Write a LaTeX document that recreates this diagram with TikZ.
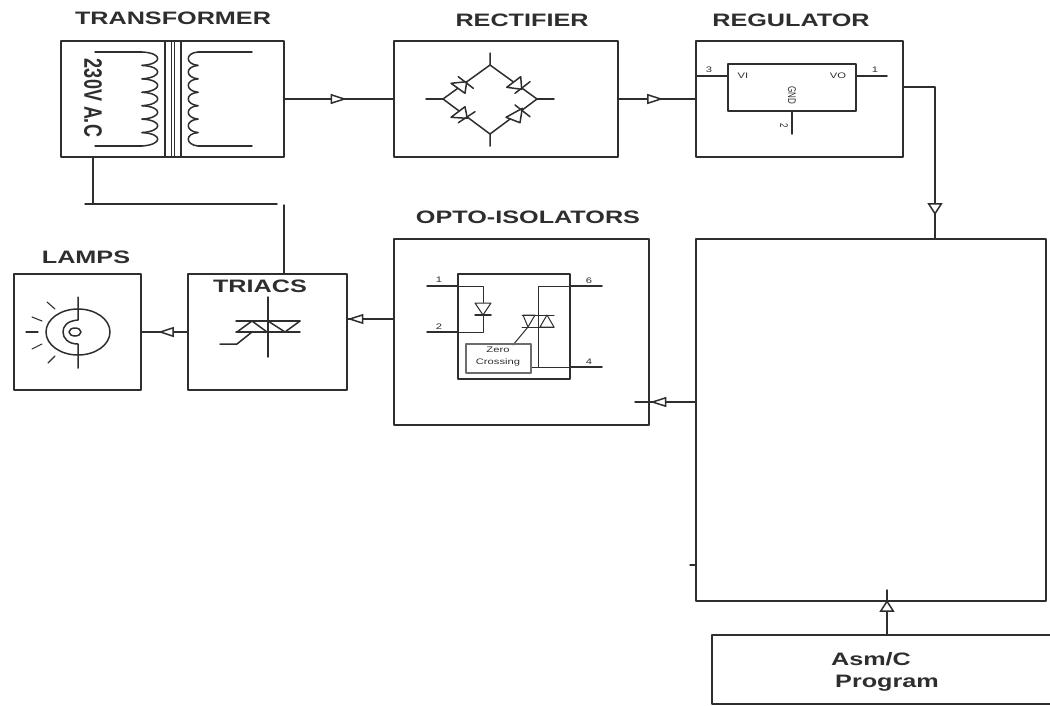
\documentclass[tikz,border=0pt]{standalone}
\usepackage{fontspec}
\setmainfont{Liberation Sans}
\newfontfamily\widefont[FakeStretch=1.4]{Liberation Sans}
\usetikzlibrary{arrows.meta,decorations.markings}
\definecolor{inkgray}{HTML}{2E2E2E}
\begin{document}
\begin{tikzpicture}[x=1pt, y=-1pt, line cap=round, line join=round, color=inkgray, line width=1.5pt]
	\tikzset{
		blockbox/.style={draw, anchor=north west, inner sep=0pt, outer sep=0pt, line width=1.8pt},
		titletext/.style={font=\widefont\bfseries\fontsize{18}{18}\selectfont, inner sep=0pt},
		pintext/.style={font=\widefont\fontsize{8}{8}\selectfont, inner sep=0pt},
		midtip/.style={postaction={decorate}, decoration={markings, mark=at position #1 with {\arrow{Triangle[open, length=16pt, width=10pt, line width=1.5pt, fill=white]}}}},
		vmidtip/.style={postaction={decorate}, decoration={markings, mark=at position #1 with {\arrow{Triangle[open, length=12pt, width=15pt, line width=1.5pt, fill=white]}}}}
	}
	\useasboundingbox (0,0) rectangle (1050,705);
	% blocks
	\node[blockbox, minimum width=223pt, minimum height=116pt] (transformer) at (61,41) {};
	\node[blockbox, minimum width=224pt, minimum height=116pt] (rectifier) at (394,41) {};
	\node[blockbox, minimum width=207pt, minimum height=116pt] (regulator) at (696,41) {};
	\node[blockbox, minimum width=350pt, minimum height=362pt] (controller) at (696,239) {};
	\node[blockbox, minimum width=255pt, minimum height=186pt] (opto) at (394,239) {};
	\node[blockbox, minimum width=159pt, minimum height=116pt] (triacs) at (188,274) {};
	\node[blockbox, minimum width=127pt, minimum height=116pt] (lamps) at (14,274) {};
	\node[blockbox, minimum width=345pt, minimum height=69pt] (program) at (712,635) {};
	% titles
	\node[titletext] (transformertitle) at (173,18) {TRANSFORMER};
	\node[titletext] (rectifiertitle) at (522,20) {RECTIFIER};
	\node[titletext] (regulatortitle) at (791,20) {REGULATOR};
	\node[titletext] (optotitle) at (528,217) {OPTO-ISOLATORS};
	\node[titletext] (lampstitle) at (86,257) {LAMPS};
	\node[titletext] (triacstitle) at (260,286) {TRIACS};
	\node[titletext] (asmtext) at (871,659) {Asm/C};
	\node[titletext] (programtext) at (887,683) {Program};
	\node[inner sep=0pt, font=\bfseries\fontsize{18}{18}\selectfont] (mainstext) at (93,98) {\scalebox{1.4}[1]{\rotatebox{-90}{230V A.C}}};
	% connectors
	\coordinate (regout) at (903,87);
	\coordinate (regdrop) at (935,87);
	\coordinate (contin) at (935,239);
	\coordinate (contout) at (696,402);
	\coordinate (optoin) at (635,402);
	\coordinate (progout) at (887,635);
	\coordinate (progin) at (887,590);
	\coordinate (trafofoot) at (93,157);
	\coordinate (trafocorner) at (93,204);
	\coordinate (mainsleft) at (85,204);
	\coordinate (mainsright) at (277,204);
	\coordinate (triacup) at (284,205);
	\coordinate (triactop) at (284,274);
	\coordinate (opto3) at (394,319);
	\coordinate (triac3) at (347,319);
	\coordinate (triac4) at (188,332);
	\coordinate (lamp4) at (141,332);
	\coordinate (stubright) at (696,565);
	\coordinate (stubleft) at (690,565);
	\draw[midtip=0.57] (transformer.east) -- (rectifier.west);
	\draw[midtip=0.58] (rectifier.east) -- (regulator.west);
	\draw[vmidtip=0.87] (regout) -- (regdrop) -- (contin);
	\draw[midtip=0.75] (contout) -- (optoin);
	\draw[midtip=0.99] (opto3) -- (triac3);
	\draw[midtip=0.64] (triac4) -- (lamp4);
	\draw[vmidtip=0.78] (progout) -- (progin);
	\draw (trafofoot) -- (trafocorner);
	\draw (mainsleft) -- (mainsright);
	\draw (triacup) -- (triactop);
	\draw (stubleft) -- (stubright);
	% transformer
	\draw (165,41) -- (165,157) (171.7,41) -- (171.7,157) (174.5,41) -- (174.5,157) (181,41) -- (181,157);
	\draw (95,52) -- (142,52);
	\foreach \i in {0,...,6}
		\draw (142,{52+\i*13.43}) .. controls (163,{53+\i*13.43}) and (163,{64+\i*13.43}) .. (142,{65.43+\i*13.43});
	\draw (95,146) -- (142,146);
	\draw (252,52) -- (198,52);
	\foreach \i in {0,...,6}
		\draw (198,{52+\i*13.43}) .. controls (185,{53+\i*13.43}) and (185,{64+\i*13.43}) .. (198,{65.43+\i*13.43});
	\draw (252,146) -- (198,146);
	% rectifier
	\draw (490,53) -- (490,65) -- (443,99) -- (490,134) -- (490,146);
	\draw (426,99) -- (443,99);
	\draw (490,65) -- (537,99) -- (490,134);
	\draw (537,99) -- (554,99);
	\draw[fill=white] (451,83.3) -- (465,93.3) -- (466.7,81.7) -- cycle;
	\draw (458.3,76.7) -- (473.3,88.3);
	\draw[fill=white] (506.7,87.3) -- (520.7,76.7) -- (521.7,89.3) -- cycle;
	\draw (515,93.3) -- (530,81.7);
	\draw[fill=white] (451,117.3) -- (465,106.7) -- (467.3,118.3) -- cycle;
	\draw (458.3,122.7) -- (475,111.7);
	\draw[fill=white] (506,117.3) -- (520,122.7) -- (522.3,108.3) -- cycle;
	\draw (515,105) -- (530,116.7);
	% regulator
	\draw[line width=1.6pt] (728,64) rectangle (856,111);
	\draw (697,76) -- (728,76) (856,76) -- (887,76) (792,111) -- (792,134);
	\node[pintext] (pinthree) at (709,70) {3};
	\node[pintext] (pinone) at (875,70) {1};
	\node[inner sep=0pt, font=\fontsize{8}{8}\selectfont] (pintwo) at (784,126) {\scalebox{1.4}[1]{\rotatebox{-90}{2}}};
	\node[pintext] (vitext) at (743,76) {VI};
	\node[pintext] (votext) at (838,76) {VO};
	\node[inner sep=0pt, font=\fontsize{8}{8}\selectfont] (gndtext) at (792,95) {\scalebox{1.4}[1]{\rotatebox{-90}{GND}}};
	% opto-isolator
	\draw[line width=1.6pt] (458,274) rectangle (570,379);
	\draw (427,286) -- (458,286) (427,332) -- (458,332) (570,286) -- (602,286) (570,367) -- (602,367);
	\draw[line width=1pt] (458,286) -- (483,286) -- (483,332) -- (458,332);
	\draw[line width=1pt, fill=white] (475,303) -- (491,303) -- (483,315) -- cycle;
	\draw (475,315) -- (491,315);
	\draw[line width=1pt] (570,286) -- (538,286) -- (538,367);
	\draw[line width=1pt] (531,367) -- (570,367);
	\draw[line width=1pt] (522,315) -- (554,315) (522,327) -- (554,327);
	\draw[line width=1pt] (523,315) -- (535,315) -- (528,327) -- cycle (540,327) -- (554,327) -- (547,315) -- cycle;
	\draw[line width=1pt] (528,327) -- (513,345);
	\draw[line width=1.2pt, draw=inkgray!70] (466,344) rectangle (531,373);
	\node[pintext] (zerotext) at (498,350) {Zero};
	\node[pintext] (crosstext) at (498,362) {Crossing};
	\node[pintext] (optoone) at (439,280) {1};
	\node[pintext] (optotwo) at (439,327) {2};
	\node[pintext] (optosix) at (589,281) {6};
	\node[pintext] (optofour) at (589,362) {4};
	% triac
	\draw (268,297) -- (268,357);
	\draw (236,321) -- (300,321) (236,332) -- (300,332);
	\draw (237,332) -- (252,321) -- (267,332) (268,321) -- (285,332) -- (300,321);
	\draw (220,344) -- (237,344) -- (252,332);
	% lamp
	\draw (78,332) ellipse (32 and 23);
	\draw (78,297) -- (78,320) .. controls (66,321) and (63,327) .. (63,332) .. controls (63,338) and (68,344) .. (78,344) -- (78,368);
	\draw (75,332) ellipse (6 and 4);
	\foreach \xa/\ya/\xb/\yb in {47/302/55/309, 32/317/42/321, 26/332/38/332, 32/349/42/344, 48/363/55/356}
		\draw[line width=1.1pt] (\xa,\ya) -- (\xb,\yb);
\end{tikzpicture}
\end{document}
